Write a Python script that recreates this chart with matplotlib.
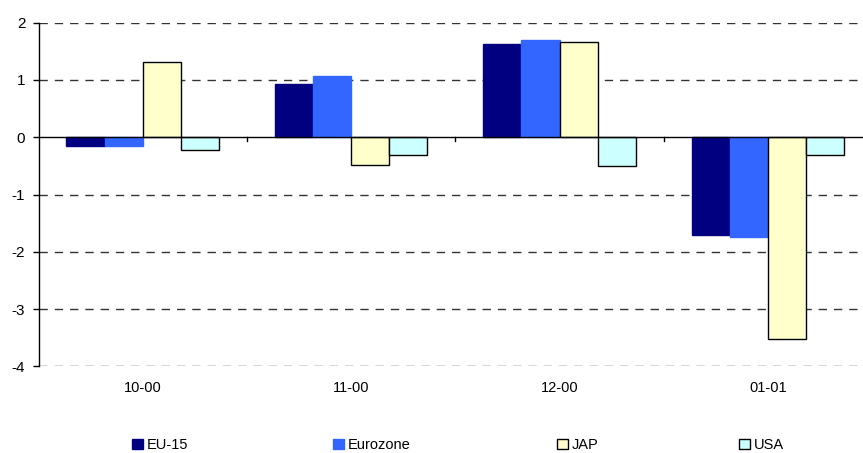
import matplotlib.pyplot as plt
import matplotlib.transforms as mtransforms
from matplotlib.patches import Patch
import numpy as np

plt.rcParams['font.family'] = ['Liberation Sans', 'DejaVu Sans']
plt.rcParams['lines.scale_dashes'] = False
plt.rcParams['axes.unicode_minus'] = False

categories = ['10-00', '11-00', '12-00', '01-01']
series = ['EU-15', 'Eurozone', 'JAP', 'USA']
eu15 = [-0.16, 0.93, 1.63, -1.70]
eurozone = [-0.16, 1.07, 1.70, -1.75]
jap = [1.32, -0.48, 1.67, -3.52]
usa = [-0.22, -0.31, -0.50, -0.31]
values = [eu15, eurozone, jap, usa]
colors = ['#000080', '#3366FF', '#FFFFCC', '#CCFFFF']
edges = ['#000080', '#3366FF', 'black', 'black']

fig = plt.figure(figsize=(8.63, 4.53), dpi=100)
ax = fig.add_axes([38.5 / 863, 1 - 366.3 / 453, 833.6 / 863, 343.6 / 453])

x = np.arange(len(categories))
w = 0.183
for i, vals in enumerate(values):
    ax.bar(x + (i - 1.5) * w, vals, w, color=colors[i], edgecolor=edges[i],
           linewidth=1.0, zorder=3)

ax.set_ylim(-4, 2)
ax.set_xlim(-0.5, 3.5)
ax.set_yticks(range(-4, 3))
for yv in range(-4, 3):
    if yv != 0:
        ax.axhline(yv, color='#333333', linewidth=1.0, linestyle=(0, (6, 5)), zorder=1)
ax.axhline(0, color='black', linewidth=1.0, zorder=4)

for s in ['top', 'right', 'bottom']:
    ax.spines[s].set_visible(False)
ax.spines['left'].set_linewidth(1.0)
ax.tick_params(axis='y', length=4.5, width=1.0, pad=5, labelsize=11)

# boundary ticks on the zero line
ax.set_xticks([])
trans = mtransforms.blended_transform_factory(ax.transData, ax.transAxes)
y0 = 4 / 6
for b in [0.5, 1.5, 2.5]:
    ax.plot([b, b], [y0, y0 - 0.012], color='black', linewidth=1.0,
            transform=trans, clip_on=False, zorder=4)
for xi, lab in zip(x, categories):
    ax.text(xi, -0.064, lab, transform=trans, ha='center', va='center', fontsize=10.5)

leg_x = [132, 333, 557, 739]
for i, name in enumerate(series):
    h = Patch(facecolor=colors[i], edgecolor=edges[i], linewidth=1.0)
    fig.legend(handles=[h], labels=[name], loc='center left',
               bbox_to_anchor=(leg_x[i] / 863, 1 - 445 / 453), frameon=False,
               borderpad=0, borderaxespad=0, handlelength=0.72, handleheight=0.72,
               handletextpad=0.27, fontsize=10.5)

fig.savefig('out.png', dpi=100)
